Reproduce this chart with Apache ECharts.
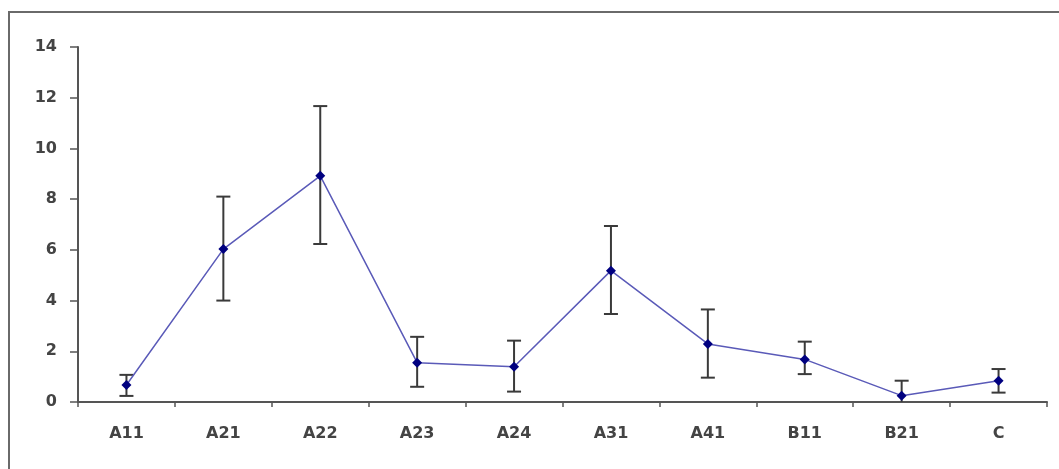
<!DOCTYPE html>
<html>
<head>
<meta charset="utf-8">
<script src="https://cdn.jsdelivr.net/npm/echarts@6/dist/echarts.min.js"></script>
<style>
html,body{margin:0;padding:0;background:#fff;}
#chart{width:1059px;height:469px;}
</style>
</head>
<body>
<div id="chart"></div>
<script>
const categories = ['A11','A21','A22','A23','A24','A31','A41','B11','B21','C'];
const means = [0.67, 6.03, 8.92, 1.55, 1.39, 5.18, 2.29, 1.68, 0.25, 0.84];
const errHigh = [1.07, 8.1, 11.67, 2.57, 2.42, 6.94, 3.65, 2.38, 0.84, 1.30];
const errLow = [0.24, 4.0, 6.23, 0.6, 0.41, 3.47, 0.96, 1.1, -0.34, 0.37];
const yTicks = [0, 2, 4, 6, 8, 10, 12, 14];

const chart = echarts.init(document.getElementById('chart'));
const errData = categories.map((c, i) => [i, errLow[i], errHigh[i]]);
const labelFont = { color: '#444', fontSize: 16, fontWeight: 'bold', fontFamily: 'DejaVu Sans, sans-serif' };

chart.setOption({
  animation: false,
  backgroundColor: '#fff',
  graphic: [{
    type: 'rect',
    shape: { x: 9, y: 12, width: 1200, height: 600 },
    style: { fill: 'none', stroke: '#6a6a6a', lineWidth: 2 },
    silent: true
  }],
  grid: { left: 78, right: 12, top: 47, bottom: 67, containLabel: false },
  xAxis: {
    type: 'category',
    data: categories,
    boundaryGap: true,
    axisLine: { lineStyle: { color: '#555', width: 2 } },
    axisTick: { show: true, alignWithLabel: false, length: 5, lineStyle: { color: '#555', width: 1.5 } },
    axisLabel: Object.assign({ margin: 24 }, labelFont),
    splitLine: { show: false }
  },
  yAxis: {
    type: 'value',
    min: yTicks[0],
    max: yTicks[yTicks.length - 1],
    interval: 2,
    axisLine: { show: true, lineStyle: { color: '#555', width: 2 } },
    axisTick: { show: true, length: 8, lineStyle: { color: '#555', width: 1.5 } },
    axisLabel: Object.assign({ margin: 21 }, labelFont),
    splitLine: { show: false }
  },
  series: [
    {
      type: 'custom',
      clip: true,
      z: 3,
      data: errData,
      renderItem: function (params, api) {
        const x = api.value(0);
        const lo = api.coord([x, api.value(1)]);
        const hi = api.coord([x, api.value(2)]);
        const w = 7;
        const st = { stroke: '#3a3a3a', lineWidth: 2 };
        return {
          type: 'group',
          children: [
            { type: 'line', shape: { x1: hi[0], y1: hi[1], x2: lo[0], y2: lo[1] }, style: st },
            { type: 'line', shape: { x1: hi[0] - w, y1: hi[1], x2: hi[0] + w, y2: hi[1] }, style: st },
            { type: 'line', shape: { x1: lo[0] - w, y1: lo[1], x2: lo[0] + w, y2: lo[1] }, style: st }
          ]
        };
      }
    },
    {
      type: 'line',
      data: means,
      z: 4,
      symbol: 'diamond',
      symbolSize: 10,
      lineStyle: { color: '#5a5ab8', width: 1.5 },
      itemStyle: { color: '#000080' }
    }
  ]
});
</script>
</body>
</html>
